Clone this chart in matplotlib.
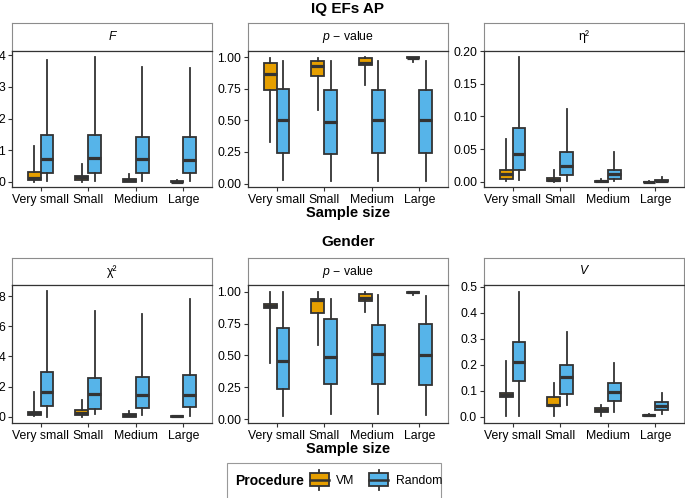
import numpy as np
import matplotlib
matplotlib.use("Agg")
import matplotlib.pyplot as plt
from matplotlib.patches import Patch, Rectangle
from matplotlib.lines import Line2D
from matplotlib.legend_handler import HandlerBase

plt.rcParams["font.family"] = ["Liberation Sans", "DejaVu Sans"]
plt.rcParams["mathtext.fontset"] = "custom"
plt.rcParams["mathtext.rm"] = "Liberation Sans"
plt.rcParams["mathtext.it"] = "Liberation Sans:italic"

########## DATA ##########
sizes = ["Very small", "Small", "Medium", "Large"]
procedures = ["VM", "Random"]

# each box: [lower whisker, Q1, median, Q3, upper whisker]
f_vm = [[0, 0.05, 0.13, 0.32, 1.14], [0, 0.05, 0.14, 0.19, 0.56],
        [0, 0.01, 0.05, 0.08, 0.26], [0, 0.0, 0.01, 0.03, 0.05]]
f_rand = [[0.02, 0.29, 0.73, 1.47, 3.86], [0.02, 0.29, 0.74, 1.47, 3.95],
          [0.02, 0.29, 0.71, 1.42, 3.61], [0.02, 0.29, 0.70, 1.41, 3.58]]

p1_vm = [[0.33, 0.74, 0.87, 0.95, 0.99], [0.58, 0.85, 0.93, 0.97, 0.995],
         [0.78, 0.935, 0.955, 0.99, 0.998], [0.96, 0.99, 0.995, 0.999, 1.0]]
p1_rand = [[0.03, 0.24, 0.50, 0.75, 0.97], [0.02, 0.23, 0.49, 0.74, 0.97],
           [0.02, 0.24, 0.50, 0.74, 0.97], [0.02, 0.24, 0.50, 0.74, 0.97]]

eta_vm = [[0.001, 0.004, 0.012, 0.019, 0.065], [0, 0.001, 0.0035, 0.006, 0.018],
          [0, 0.0003, 0.0007, 0.0012, 0.004], [0, 0.0001, 0.0002, 0.0004, 0.001]]
eta_rand = [[0.003, 0.018, 0.043, 0.083, 0.191], [0.002, 0.010, 0.024, 0.046, 0.112],
            [0.0015, 0.004, 0.012, 0.019, 0.045], [0, 0.001, 0.002, 0.0035, 0.008]]

chi_vm = [[0.04, 0.13, 0.24, 0.31, 1.66], [0, 0.09, 0.27, 0.42, 1.1],
          [0, 0.0, 0.1, 0.2, 0.35], [0, 0.0, 0.02, 0.05, 0.06]]
chi_rand = [[0, 0.69, 1.61, 2.99, 8.3], [0.18, 0.53, 1.48, 2.59, 7.03],
            [0.09, 0.60, 1.42, 2.65, 6.81], [0.07, 0.62, 1.44, 2.74, 7.79]]

p2_vm = [[0.44, 0.875, 0.888, 0.90, 1.0], [0.58, 0.83, 0.935, 0.943, 1.0],
         [0.843, 0.927, 0.953, 0.98, 1.0], [0.974, 0.992, 0.997, 1.0, 1.0]]
p2_rand = [[0.026, 0.235, 0.457, 0.713, 1.0], [0.04, 0.28, 0.49, 0.786, 0.94],
           [0.04, 0.277, 0.509, 0.739, 0.974], [0.03, 0.269, 0.50, 0.744, 0.969]]

v_vm = [[0.003, 0.076, 0.083, 0.090, 0.214], [0.003, 0.042, 0.047, 0.076, 0.128],
        [0.003, 0.017, 0.026, 0.033, 0.047], [0.001, 0.003, 0.005, 0.007, 0.009]]
v_rand = [[0.003, 0.137, 0.212, 0.286, 0.48], [0.045, 0.087, 0.151, 0.199, 0.324],
          [0.019, 0.062, 0.096, 0.131, 0.206], [0.009, 0.026, 0.042, 0.055, 0.090]]

######## END DATA ########

c_vm = "#E69F00"
c_rand = "#56B4E9"
edge = "#333333"
grey = "#8c8c8c"

W, H = 685, 498
fig = plt.figure(figsize=(W / 100, H / 100), dpi=100)


def px(left, top, w, h):
    return [left / W, 1 - (top + h) / H, w / W, h / H]


def draw_panel(col, row, label, vm, rand, ylim, yticks, fmt, label_style="normal"):
    left = [12, 248, 484][col]
    strip_top, plot_top, plot_bot = [(23, 51, 187), (258, 285, 423)][row]

    sax = fig.add_axes(px(left, strip_top, 200, plot_top - strip_top))
    sax.set_xticks([])
    sax.set_yticks([])
    for s in sax.spines.values():
        s.set_color(grey)
        s.set_linewidth(0.8)
    sax.text(0.5, 0.5, label, transform=sax.transAxes, ha="center", va="center",
             fontsize=8.8, fontstyle=label_style)

    ax = fig.add_axes(px(left, plot_top, 200, plot_bot - plot_top))
    pos = np.arange(1, len(sizes) + 1)
    for data, off, color in [(vm, -0.135, c_vm), (rand, 0.135, c_rand)]:
        stats = [dict(whislo=s[0], q1=s[1], med=s[2], q3=s[3], whishi=s[4], fliers=[])
                 for s in data]
        ax.bxp(stats, positions=pos + off, widths=0.27, patch_artist=True,
               showcaps=False, manage_ticks=False,
               boxprops=dict(facecolor=color, edgecolor=edge, linewidth=1.3),
               whiskerprops=dict(color=edge, linewidth=1.3),
               medianprops=dict(color=edge, linewidth=2.3, solid_capstyle="butt"))
    ax.set_xlim(0.4, 4.6)
    ax.set_ylim(*ylim)
    ax.set_xticks(pos, sizes)
    ax.set_yticks(yticks, [fmt.format(t) for t in yticks])
    ax.tick_params(labelsize=8.8, length=3, width=0.8, color=edge, pad=2)
    for side in ["left", "bottom", "top"]:
        ax.spines[side].set_color(edge)
        ax.spines[side].set_linewidth(0.9)
    ax.spines["right"].set_color(grey)
    ax.spines["right"].set_linewidth(0.8)
    return ax


draw_panel(0, 0, "F", f_vm, f_rand, (-0.16, 4.13), [0, 1, 2, 3, 4], "{:.0f}", "italic")
draw_panel(1, 0, r"$p$ $-$ value", p1_vm, p1_rand, (-0.027, 1.048),
           [0, 0.25, 0.5, 0.75, 1.0], "{:.2f}")
draw_panel(2, 0, "η²", eta_vm, eta_rand, (-0.0077, 0.2), [0, 0.05, 0.1, 0.15, 0.2], "{:.2f}")
draw_panel(0, 1, "χ²", chi_vm, chi_rand, (-0.42, 8.73), [0, 2, 4, 6, 8], "{:.0f}")
draw_panel(1, 1, r"$p$ $-$ value", p2_vm, p2_rand, (-0.029, 1.052),
           [0, 0.25, 0.5, 0.75, 1.0], "{:.2f}")
draw_panel(2, 1, "V", v_vm, v_rand, (-0.024, 0.5065), [0, 0.1, 0.2, 0.3, 0.4, 0.5],
           "{:.1f}", "italic")

# titles
fig.text(348 / W, 1 - 9 / H, "IQ EFs AP", ha="center", va="center", fontsize=11, weight="bold")
fig.text(348 / W, 1 - 242 / H, "Gender", ha="center", va="center", fontsize=11, weight="bold")
fig.text(348 / W, 1 - 213 / H, "Sample size", ha="center", va="center", fontsize=10.5, weight="bold")
fig.text(348 / W, 1 - 449 / H, "Sample size", ha="center", va="center", fontsize=10.5, weight="bold")


# legend with boxplot-like keys
class BoxKey(HandlerBase):
    def create_artists(self, legend, orig, xd, yd, width, height, fontsize, trans):
        x0, cy = -xd, -yd + height / 2
        whisker = Line2D([x0 + width / 2] * 2, [cy - 7.2, cy + 7.2], color=edge, lw=1.3,
                         transform=trans)
        box = Rectangle((x0, cy - 4.7), width, 9.4, facecolor=orig.get_facecolor(),
                        edgecolor=edge, lw=1.3, transform=trans)
        med = Line2D([x0, x0 + width], [cy, cy], color=edge, lw=1.8, transform=trans)
        return [whisker, box, med]


handles = [Patch(facecolor=c_vm), Patch(facecolor=c_rand)]
fig.legend(handles, procedures, loc="center left", bbox_to_anchor=(310 / W, 1 - 481 / H),
           ncol=2, frameon=False, fontsize=8.8, handlelength=1.55, handletextpad=0.6,
           columnspacing=1.2, borderpad=0, borderaxespad=0,
           handler_map={Patch: BoxKey()})
fig.text(235 / W, 1 - 481 / H, "Procedure", ha="left", va="center", fontsize=10, weight="bold")
fig.add_artist(Rectangle((227 / W, -0.02), (441 - 227) / W, 1 - 463 / H + 0.02,
                         transform=fig.transFigure, fill=False, edgecolor="#999999", lw=0.8))

plt.savefig("out.png", dpi=100)
